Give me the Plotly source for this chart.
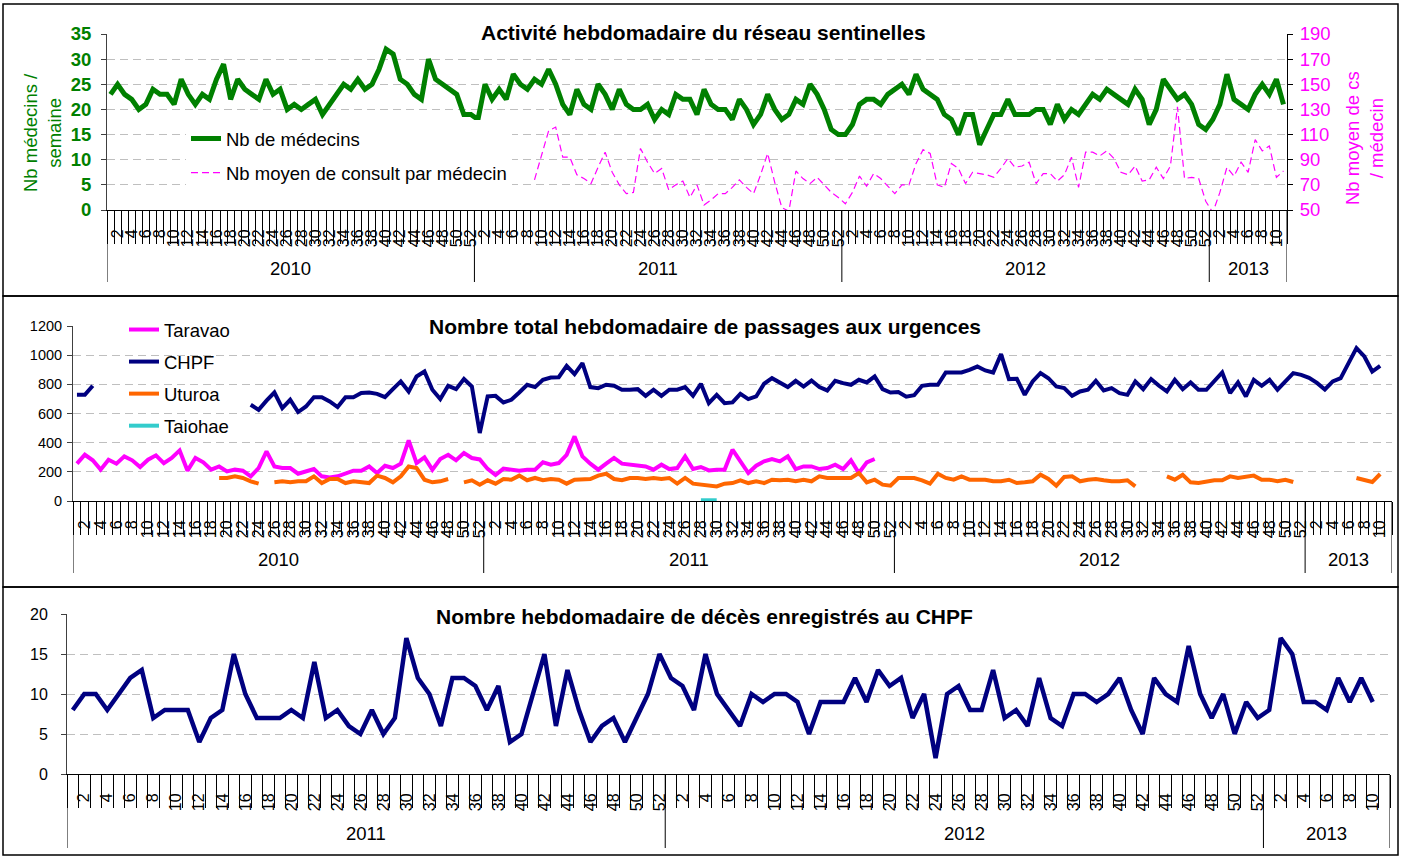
import plotly.graph_objects as go

W, H = 1401, 856
FONT = "Liberation Sans, Arial, sans-serif"

# ---------------- categories ----------------
years_p12 = [2010, 2011, 2012, 2013]
weeks_per_year_p12 = [52, 52, 52, 11]
years_p3 = [2011, 2012, 2013]
weeks_per_year_p3 = [52, 52, 11]

# ---------------- panel 1 : réseau sentinelles ----------------
medecins_2010 = [23, 25, 23, 22, 20, 21, 24, 23, 23, 21, 26, 23, 21, 23, 22, 26, 29, 22, 26, 24,
                 23, 22, 26, 23, 24, 20, 21, 20, 21, 22, 19, 21, 23, 25, 24, 26, 24, 25, 28, 32,
                 31, 26, 25, 23, 22, 30, 26, 25, 24, 23, 19, 19]
medecins_2011 = [18, 25, 22, 24, 22, 27, 25, 24, 26, 25, 28, 25, 21, 19, 24, 21, 20, 25, 23, 20,
                 24, 21, 20, 20, 21, 18, 20, 19, 23, 22, 22, 19, 24, 21, 20, 20, 18, 22, 20, 17,
                 19, 23, 20, 18, 19, 22, 21, 25, 23, 20, 16, 15]
medecins_2012 = [15, 17, 21, 22, 22, 21, 23, 24, 25, 23, 27, 24, 23, 22, 19, 18, 15, 19, 19, 13,
                 16, 19, 19, 22, 19, 19, 19, 20, 20, 17, 21, 18, 20, 19, 21, 23, 22, 24, 23, 22,
                 21, 24, 22, 17, 20, 26, 24, 22, 23, 21, 17, 16]
medecins_2013 = [18, 21, 27, 22, 21, 20, 23, 25, 23, 26, 21]

consult_2010 = [None] * 52
consult_2011 = [None, None, None, None, None, None, None, None, 74, 94,
                113, 116, 92, 92, 78, 75, 71, 84, 96, 80, 70, 63, 64, 99, 88, 79, 83, 66, 70, 73,
                60, 70, 54, 58, 63, 63, 68, 74, 68, 63, 78, 95, 72, 52, 49, 81, 75, 71, 76, 70,
                64, 60]
consult_2012 = [55, 64, 77, 69, 79, 75, 69, 63, 70, 70, 87, 98, 95, 70, 68, 87, 83, 71, 80, 79,
                78, 76, 83, 91, 84, 85, 88, 71, 79, 79, 73, 78, 92, 68, 96, 96, 93, 97, 91, 80,
                78, 85, 73, 74, 84, 75, 85, 132, 75, 76, 75, 57]
consult_2013 = [48, 64, 84, 77, 88, 80, 106, 97, 101, 76, 81]

# ---------------- panel 2 : passages aux urgences ----------------
chpf_2010 = [728, 728, 790] + [None] * 19 + [660, 625, 688, 744, 637, 694, 610, 648, 712, 712,
             683, 644, 712, 712, 740, 744, 735, 712, 767, 820, 751, 854, 888, 763, 699, 790,
             767, 836, 785, 466]
chpf_2011 = [717, 721, 676, 694, 744, 797, 781, 831, 847, 849, 927, 870, 945, 781, 774, 797,
             790, 763, 763, 767, 721, 763, 721, 763, 763, 781, 721, 804, 671, 728, 671, 676,
             735, 699, 717, 804, 842, 813, 781, 824, 785, 826, 781, 758, 824, 808, 797, 831,
             813, 854, 767, 744]
chpf_2012 = [748, 715, 725, 790, 797, 797, 881, 881, 881, 899, 922, 895, 881, 1007, 836, 838,
             728, 820, 877, 842, 785, 774, 721, 751, 763, 824, 758, 774, 740, 728, 820, 767,
             836, 790, 751, 831, 767, 813, 763, 763, 820, 881, 740, 813, 717, 831, 790, 831,
             763, 820, 877, 865]
chpf_2013 = [845, 810, 765, 820, 842, 945, 1048, 991, 888, 927, None]

taravao_2010 = [256, 317, 279, 215, 283, 256, 306, 279, 233, 283, 313, 260, 295, 347, 208, 295,
                265, 215, 237, 203, 215, 208, 169, 226, 340, 237, 226, 226, 187, 203, 219, 169,
                162, 169, 192, 208, 208, 237, 192, 242, 226, 256, 416, 260, 299, 215, 288, 317,
                279, 329, 295, 285]
taravao_2011 = [220, 178, 222, 214, 208, 215, 215, 265, 249, 260, 317, 443, 306, 256, 215, 256,
                295, 256, 249, 242, 237, 215, 249, 219, 226, 306, 219, 233, 210, 215, 215, 352,
                272, 192, 242, 272, 288, 272, 306, 219, 237, 237, 219, 226, 249, 219, 279, 192,
                265, 288, None, None]
taravao_2012 = [None] * 52
taravao_2013 = [None] * 11

uturoa_2010 = [None] * 18 + [158, 158, 169, 158, 135, 119, None, 128, 135, 128, 135, 135, 169,
               123, 151, 151, 123, 135, 128, 123, 174, 158, 128, 169, 237, 226, 146, 128, 135,
               151, None, 128, 142, 112]
uturoa_2011 = [142, 119, 151, 146, 174, 142, 158, 142, 151, 146, 119, 146, 151, 151, 174, 187,
               151, 142, 158, 158, 151, 158, 151, 158, 119, 158, 119, 112, 105, 100, 119, 123,
               142, 123, 135, 123, 146, 142, 146, 135, 146, 135, 169, 158, 158, 158, 158, 192,
               128, 146, 112, 105]
uturoa_2012 = [158, 158, 158, 142, 119, 187, 158, 146, 169, 146, 146, 146, 135, 135, 146, 123,
               128, 135, 180, 151, 105, 165, 169, 135, 146, 151, 142, 135, 135, 142, 100,
               None, None, None, 169, 146, 180, 128, 123, 135, 142, 142, 169, 158, 165, 174,
               146, 146, 135, 146, 130, None]
uturoa_2013 = [None] * 6 + [158, 146, 130, 185, None]

taiohae_2010 = [None] * 52
taiohae_2011 = [None] * 27 + [5, 5, 5] + [None] * 22
taiohae_2012 = [None] * 52
taiohae_2013 = [None] * 11

# ---------------- panel 3 : décès CHPF ----------------
deces_2011 = [8, 10, 10, 8, 10, 12, 13, 7, 8, 8, 8, 4, 7, 8, 15, 10, 7, 7, 7, 8, 7, 14, 7, 8, 6,
              5, 8, 5, 7, 17, 12, 10, 6, 12, 12, 11, 8, 11, 4, 5, 10, 15, 6, 13, 8, 4, 6, 7, 4,
              7, 10, 15]
deces_2012 = [12, 11, 8, 15, 10, 8, 6, 10, 9, 10, 10, 9, 5, 9, 9, 9, 12, 9, 13, 11, 12, 7, 10, 2,
              10, 11, 8, 8, 13, 7, 8, 6, 12, 7, 6, 10, 10, 9, 10, 12, 8, 5, 12, 10, 9, 16, 10, 7,
              10, 5, 9, 7]
deces_2013 = [8, 17, 15, 9, 9, 8, 12, 9, 12, 9, None]

# ---------------- colours ----------------
GREEN = "#008000"
MAGENTA = "#FF00FF"
NAVY = "#000080"
ORANGE = "#FF6600"
CYAN = "#33CCCC"
GRID = "#BFBFBF"


def px(x):
    return x / W


def py(y):
    return 1 - y / H


def build(years, nweeks):
    yrs, wks = [], []
    for yr, n in zip(years, nweeks):
        for w in range(1, n + 1):
            yrs.append(yr)
            wks.append(w)
    return yrs, wks


yrs12, wks12 = build(years_p12, weeks_per_year_p12)
yrs3, wks3 = build(years_p3, weeks_per_year_p3)
idx12 = list(range(len(wks12)))
idx3 = list(range(len(wks3)))

medecins = medecins_2010 + medecins_2011 + medecins_2012 + medecins_2013
consult = consult_2010 + consult_2011 + consult_2012 + consult_2013
chpf = chpf_2010 + chpf_2011 + chpf_2012 + chpf_2013
taravao = taravao_2010 + taravao_2011 + taravao_2012 + taravao_2013
uturoa = uturoa_2010 + uturoa_2011 + uturoa_2012 + uturoa_2013
taiohae = taiohae_2010 + taiohae_2011 + taiohae_2012 + taiohae_2013
deces = deces_2011 + deces_2012 + deces_2013

fig = go.Figure()

# panel 1
fig.add_trace(go.Scatter(x=idx12, y=medecins, mode="lines", name="Nb de médecins",
                         line=dict(color=GREEN, width=5), xaxis="x", yaxis="y",
                         legend="legend", legendgroup="a"))
fig.add_trace(go.Scatter(x=idx12, y=consult, mode="lines", name="Nb moyen de consult par médecin",
                         line=dict(color=MAGENTA, width=1.2, dash="7px,4px"), xaxis="x", yaxis="y2",
                         legend="legend", legendgroup="b"))
# panel 2
for name, vals, col, grp in [("Taravao", taravao, MAGENTA, "c"), ("CHPF", chpf, NAVY, "d"),
                             ("Uturoa", uturoa, ORANGE, "e"), ("Taiohae", taiohae, CYAN, "f")]:
    fig.add_trace(go.Scatter(x=idx12, y=vals, mode="lines", name=name,
                             line=dict(color=col, width=4), xaxis="x2", yaxis="y3",
                             legend="legend2", legendgroup=grp))
# panel 3
fig.add_trace(go.Scatter(x=idx3, y=deces, mode="lines", name="Décès CHPF",
                         line=dict(color=NAVY, width=4.5), xaxis="x3", yaxis="y4",
                         showlegend=False))


def xaxis_cfg(domain, anchor, wks):
    n = len(wks)
    even = [i for i, w in enumerate(wks) if w % 2 == 0]
    return dict(domain=domain, anchor=anchor, type="linear", range=[-0.5, n - 0.5],
                automargin=False,
                showline=True, linecolor="black", linewidth=1, showgrid=False, zeroline=False,
                tickmode="array", tickvals=even, ticktext=[str(wks[i]) for i in even],
                tickangle=-90, ticks="outside", ticklen=12, tickcolor="rgba(0,0,0,0)",
                tickfont=dict(family=FONT, size=16, color="black"),
                minor=dict(tickmode="array", tickvals=[i - 0.5 for i in range(n + 1)],
                           ticks="outside", ticklen=33, tickcolor="black", tickwidth=1,
                           showgrid=False),
                fixedrange=True)


def overlay_cfg(over, anchor, wks):
    n = len(wks)
    return dict(overlaying=over, anchor=anchor, type="linear", range=[-0.5, n - 0.5],
                automargin=False,
                tickmode="array", tickvals=[i - 0.5 for i in range(n + 1)], ticks="inside",
                ticklen=5, tickcolor="black", tickwidth=1, showticklabels=False,
                showline=False, showgrid=False, zeroline=False)


def yaxis_cfg(domain, anchor, rng, dtick, fontcolor, bold=False, size=16, standoff=0):
    return dict(domain=domain, anchor=anchor, range=rng, tickmode="linear", tick0=rng[0],
                automargin=False, ticklabelstandoff=standoff,
                dtick=dtick, showline=True, linecolor="#404040", linewidth=1, ticks="outside",
                ticklen=5, tickcolor="#404040", showgrid=True, gridcolor=GRID, griddash="8px,5px",
                gridwidth=1, zeroline=False,
                tickfont=dict(family=FONT, size=size, color=fontcolor,
                              weight="bold" if bold else "normal"))


p1x = [px(107), px(1287)]
p1y = [py(210), py(34)]
p2x = [px(73), px(1392)]
p2y = [py(501), py(326)]
p3x = [px(67), px(1390)]
p3y = [py(774), py(614)]

layout = dict(
    width=W, height=H, margin=dict(l=0, r=0, t=0, b=0, autoexpand=False),
    paper_bgcolor="white", plot_bgcolor="rgba(0,0,0,0)",
    font=dict(family=FONT, color="black"),
    xaxis=xaxis_cfg(p1x, "y", wks12),
    xaxis2=xaxis_cfg(p2x, "y3", wks12),
    xaxis3=xaxis_cfg(p3x, "y4", wks3),
    xaxis4=overlay_cfg("x", "y", wks12),
    xaxis5=overlay_cfg("x2", "y3", wks12),
    xaxis6=overlay_cfg("x3", "y4", wks3),
    yaxis=yaxis_cfg(p1y, "x", [0, 35], 5, GREEN, bold=True, size=18.5, standoff=6),
    yaxis2=dict(overlaying="y", side="right", anchor="x", range=[50, 190], tickmode="linear",
                automargin=False, ticklabelstandoff=3,
                tick0=50, dtick=20, showline=True, linecolor="black", linewidth=1,
                ticks="outside", ticklen=5, tickcolor="black", showgrid=False, zeroline=False,
                tickfont=dict(family=FONT, size=18.5, color=MAGENTA)),
    yaxis3=yaxis_cfg(p2y, "x2", [0, 1200], 200, "black", size=14.5, standoff=2),
    yaxis4=yaxis_cfg(p3y, "x3", [0, 20], 5, "black", size=16, standoff=10),
    legend=dict(x=px(186), y=py(120), xanchor="left", yanchor="top", bgcolor="white",
                font=dict(family=FONT, size=18.5, color="black"), tracegroupgap=7,
                traceorder="grouped"),
    legend2=dict(x=px(124), y=py(311), xanchor="left", yanchor="top",
                 bgcolor="rgba(0,0,0,0)", font=dict(family=FONT, size=18.5, color="black"),
                 tracegroupgap=5, traceorder="grouped"),
    showlegend=True,
)
fig.update_layout(**layout)

shapes = []
# outer frames
for (y0, y1) in [(4, 296), (296, 587), (587, 855)]:
    shapes.append(dict(type="rect", xref="paper", yref="paper", x0=px(3), x1=px(1398),
                       y0=py(y1), y1=py(y0), line=dict(color="black", width=1.5)))


def year_dividers(xref, counts, y_axis_px, y_bottom_px):
    pos = -0.5
    out = [pos]
    for c in counts:
        pos += c
        out.append(pos)
    for p in out:
        shapes.append(dict(type="line", xref=xref, yref="paper", x0=p, x1=p,
                           y0=py(y_bottom_px), y1=py(y_axis_px),
                           line=dict(color="black", width=1)))
    return out


annotations = []


def year_labels(xref, years, counts, y_px):
    start = 0
    for yr, c in zip(years, counts):
        annotations.append(dict(xref=xref, yref="paper", x=start + (c - 1) / 2, y=py(y_px),
                                xanchor="center", yanchor="middle",
                                text=str(yr), showarrow=False,
                                font=dict(family=FONT, size=18.5, color="black")))
        start += c


year_dividers("x", weeks_per_year_p12, 210, 282)
year_dividers("x2", weeks_per_year_p12, 501, 573)
year_dividers("x3", weeks_per_year_p3, 774, 848)
year_labels("x", years_p12, weeks_per_year_p12, 268)
year_labels("x2", years_p12, weeks_per_year_p12, 559)
year_labels("x3", years_p3, weeks_per_year_p3, 833)

titles = [("Activité hebdomadaire du réseau sentinelles", 703, 32),
          ("Nombre total hebdomadaire de passages aux urgences", 705, 326),
          ("Nombre hebdomadaire de décès enregistrés au CHPF", 704, 616)]
for t, x, y in titles:
    annotations.append(dict(xref="paper", yref="paper", x=px(x), y=py(y), text="<b>%s</b>" % t,
                            xanchor="center", yanchor="middle",
                            showarrow=False, bgcolor="white", borderpad=1,
                            font=dict(family=FONT, size=21, color="black")))

annotations.append(dict(xref="paper", yref="paper", x=px(42), y=py(133),
                        xanchor="center", yanchor="middle",
                        text="Nb médecins /<br>semaine", textangle=-90, showarrow=False,
                        font=dict(family=FONT, size=18.5, color=GREEN)))
annotations.append(dict(xref="paper", yref="paper", x=px(1364), y=py(138),
                        xanchor="center", yanchor="middle",
                        text="Nb moyen de cs<br>/ médecin", textangle=-90, showarrow=False,
                        font=dict(family=FONT, size=18.5, color=MAGENTA)))

fig.update_layout(shapes=shapes, annotations=annotations)

PAGE_FIX = (
    "document.documentElement.style.margin='0px';"
    "document.documentElement.style.overflow='hidden';"
    "document.body.style.margin='0px';"
    "document.body.style.overflow='hidden';"
)
fig.write_html("out.html", config={"displayModeBar": False}, post_script=PAGE_FIX)
